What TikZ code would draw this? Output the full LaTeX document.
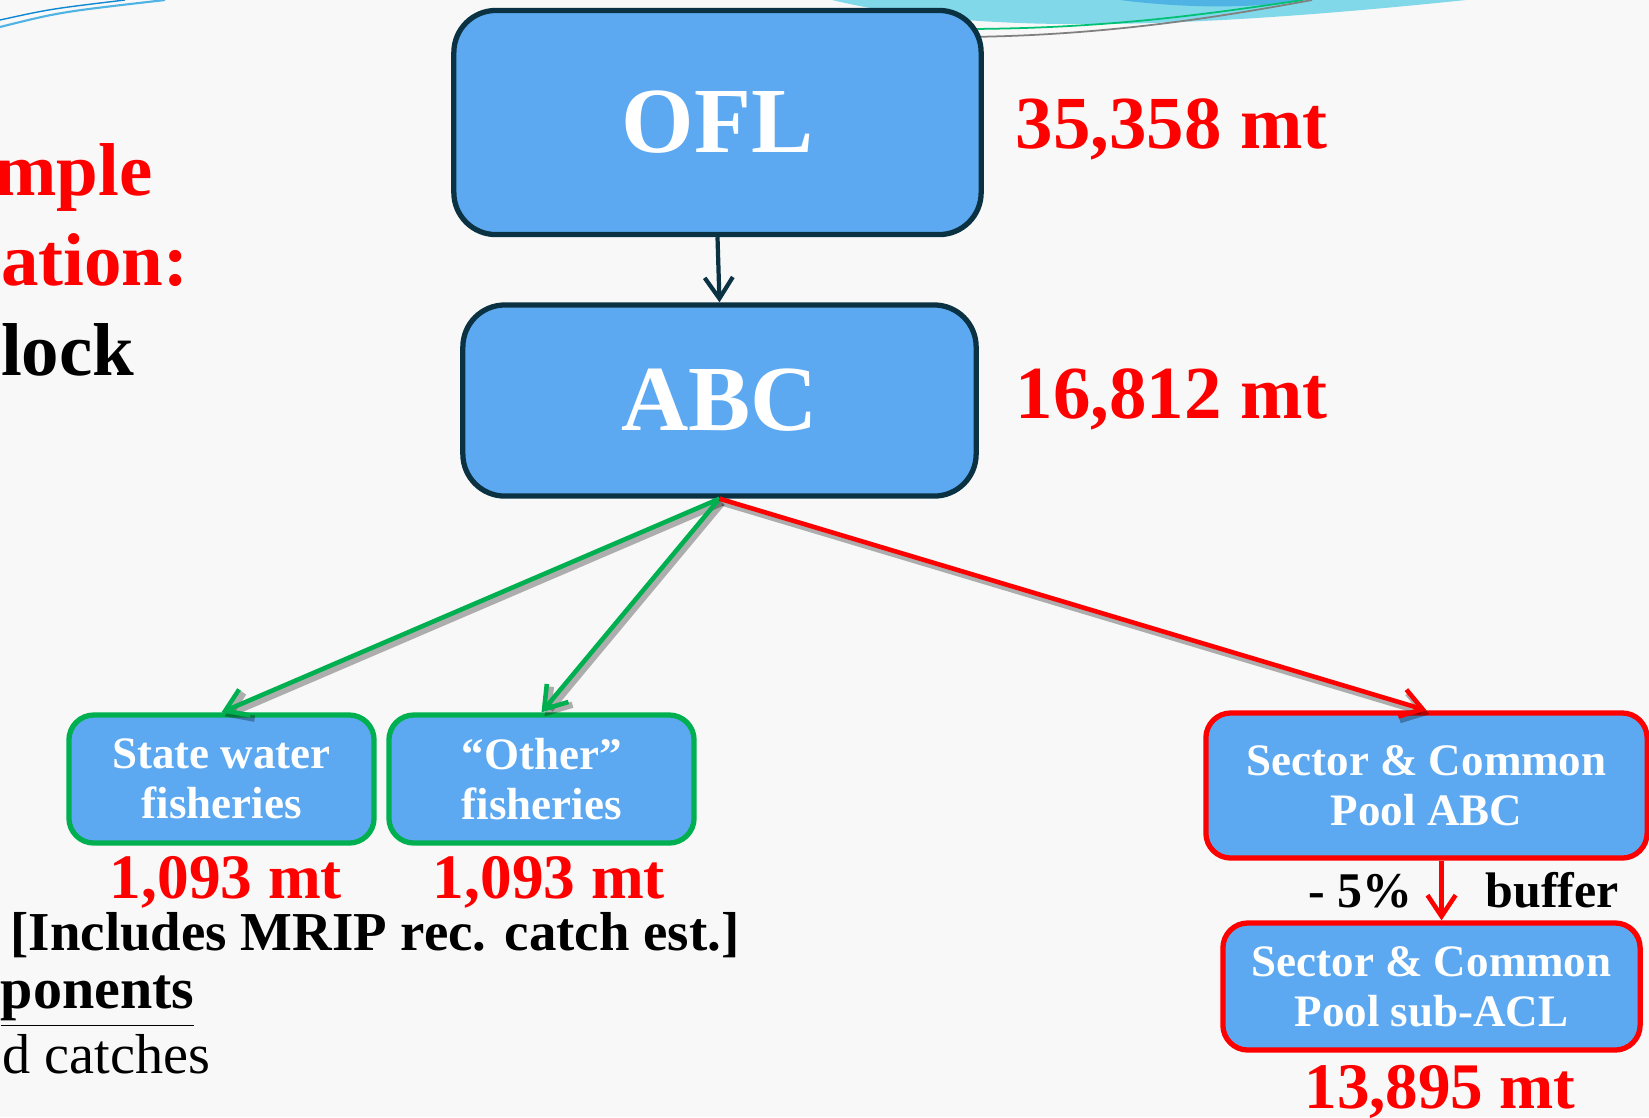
\documentclass[tikz,border=0pt]{standalone}
\usepackage{fontspec}
\setmainfont{Liberation Serif}
\usetikzlibrary{arrows.meta}
\definecolor{boxblue}{HTML}{5CA9F1}
\definecolor{navy}{HTML}{0B3243}
\definecolor{grn}{HTML}{00B050}
\definecolor{swoosh}{HTML}{80D8E8}
\definecolor{swooshdk}{HTML}{4FB3E3}
\definecolor{bgray}{HTML}{F8F8F8}
\begin{document}
\begin{tikzpicture}[x=0.01cm,y=-0.01cm,>={Straight Barb[length=6pt,width=8pt]},
  big/.style={draw=navy,line width=1.5pt,fill=boxblue,rounded corners=0.42cm,text=white,
    font=\fontsize{26.5}{30}\selectfont\bfseries},
  small/.style={fill=boxblue,line width=1.5pt,rounded corners=0.25cm,text=white,align=center,
    inner sep=0pt,font=\fontsize{12.8}{14.2}\selectfont\bfseries},
  val/.style={text=red,inner sep=0pt,font=\fontsize{21.3}{24}\selectfont\bfseries},
  sval/.style={text=red,inner sep=0pt,font=\fontsize{18}{20}\selectfont\bfseries},
  side/.style={inner sep=0pt,anchor=base east,font=\fontsize{21.3}{24}\selectfont\bfseries},
  note/.style={inner sep=0pt,font=\fontsize{15.6}{18}\selectfont\bfseries},
  shadow/.style={preaction={draw=black,opacity=.3,line width=1.8pt,transform canvas={shift={(3,4)}}}}]
\useasboundingbox (0,0) rectangle (1649,1117);
\fill[bgray] (0,0) rectangle (1649,1117);
% top swooshes
\draw[swooshdk,line width=0.6pt] (0,27) .. controls (60,12) .. (165,0);
\draw[cyan!70!blue,line width=0.4pt] (0,20) .. controls (50,9) .. (125,0);
\fill[swoosh] (832,0) .. controls (950,28) and (1120,36) .. (1466,0) -- cycle;
\fill[swooshdk] (1120,0) .. controls (1190,9) and (1260,8) .. (1305,0) -- cycle;
\draw[grn!80!cyan,line width=0.5pt] (940,29) .. controls (1100,30) and (1200,15) .. (1303,0);
\draw[gray,line width=0.5pt] (940,37) .. controls (1100,38) and (1230,15) .. (1312,0);
% left text
\node[side,text=red] (ex1) at (153,195) {mple};
\node[side,text=red] (ex2) at (189,285) {ation:};
\node[side] (ex3) at (135,375) {lock};
% boxes
\node[big,minimum width=5.27cm,minimum height=2.24cm] (ofl) at (717.5,122.5) {OFL};
\node[big,minimum width=5.13cm,minimum height=1.91cm] (abc) at (719.5,400.5) {ABC};
\node[small,draw=grn,minimum width=3.05cm,minimum height=1.28cm] (state) at (221.5,779) {State water\\fisheries};
\node[small,draw=grn,minimum width=3.05cm,minimum height=1.28cm] (other) at (541.5,779) {“Other”\\fisheries};
\node[small,draw=red,minimum width=4.41cm,minimum height=1.45cm] (sector) at (1426.5,785.5) {Sector \& Common\\Pool ABC};
\node[small,draw=red,minimum width=4.17cm,minimum height=1.27cm] (subacl) at (1431.5,986.5) {Sector \& Common\\Pool sub-ACL};
% values
\node[val,anchor=base west] (oflval) at (1015,148) {35,358 mt};
\node[val,anchor=base west] (abcval) at (1015,418) {16,812 mt};
\node[sval,anchor=base] (stateval) at (226,898) {1,093 mt};
\node[sval,anchor=base] (otherval) at (549,898) {1,093 mt};
\node[sval,anchor=base,font=\fontsize{18.5}{20}\selectfont\bfseries] (aclval) at (1440,1108) {13,895 mt};
\node[note,anchor=base east,font=\fontsize{14.2}{16}\selectfont\bfseries] (pct) at (1413,907) {- 5\%};
\node[note,anchor=base west,font=\fontsize{14.2}{16}\selectfont\bfseries] (buf) at (1485,907) {buffer};
\node[note,anchor=base west] (mrip) at (10,950) {[Includes MRIP rec. catch est.]};
\node[note,anchor=base east,font=\fontsize{16.5}{18}\selectfont\bfseries] (comp) at (195,1008) {\underline{ponents}};
\node[note,anchor=base west,font=\fontsize{16}{18}\selectfont] (catch) at (2,1073) {d catches};
% arrows
\draw[->,navy,line width=1.2pt] (ofl.south) -- (abc.north);
\draw[->,grn,line width=1.3pt,shadow] (abc.south) -- (state.north);
\draw[->,grn,line width=1.3pt,shadow] (abc.south) -- (other.north);
\draw[->,red,line width=1.3pt,shadow] (abc.south) -- (sector.north);
\coordinate (b1) at ([xshift=0.15cm]sector.south);
\draw[->,red,line width=1.3pt] (b1) -- (b1 |- subacl.north);
\end{tikzpicture}
\end{document}
